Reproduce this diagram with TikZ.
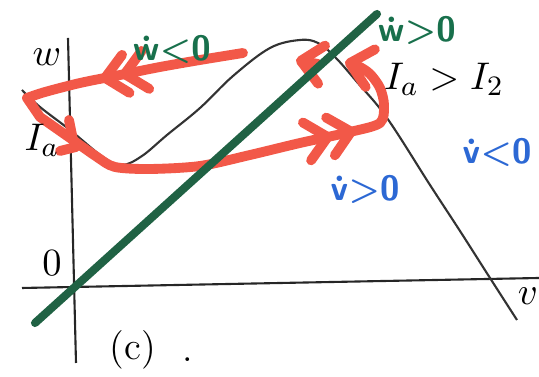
\documentclass[tikz,border=0pt]{standalone}
\usepackage{amsmath}
\usepackage{xcolor}
\usepackage{tikz}
\usetikzlibrary{arrows.meta, decorations.markings}

\definecolor{penred}{RGB}{242,88,72}
\definecolor{pengreen}{RGB}{32,98,68}
\definecolor{inkgreen}{RGB}{24,112,76}
\definecolor{inkblue}{RGB}{44,104,212}

\begin{document}
\begin{tikzpicture}[
        x=0.01cm, y=-0.01cm,
        >={Straight Barb[round, length=6pt, width=11pt]},
        axis/.style={draw=black!85, line width=0.6pt},
        nullv/.style={draw=black!80, line width=0.6pt},
        nullw/.style={draw=pengreen, line width=2.3pt, line cap=round},
        limitcycle/.style={draw=penred, line width=2.8pt, line cap=round, line join=round},
        marklabel/.style={font=\fontsize{11}{13}\selectfont},
        signgreen/.style={text=inkgreen, font=\sffamily\bfseries\boldmath},
        signblue/.style={text=inkblue, font=\sffamily\bfseries\boldmath}
    ]
        \useasboundingbox (0,0) rectangle (539,377);

        % Axes
        \draw[axis] (68,38) -- (76,363);
        \draw[axis] (22,288) -- (539,278);

        % Cubic nullcline
        \draw[nullv] plot[smooth, tension=0.6] coordinates {(22,90) (40,107) (70,130) (103,157) (122,165) (142,156) (167,135) (200,108) (233,76) (270,48) (300,40) (318,43) (335,57) (357,82) (387,118) (430,185) (460,231) (490,278) (517,320)};

        % Orbit
        \draw[limitcycle, ->, postaction={decorate, decoration={markings,
                mark=at position 1.25cm with {\arrow{>}},
                mark=at position 1.45cm with {\arrow{>}},
                mark=at position 5.55cm with {\arrow{>}},
                mark=at position 5.79cm with {\arrow{>}}}}]
            plot[smooth, tension=0.5] coordinates {(243,53) (200,60) (160,67) (120,75) (80,83) (45,92) (27,98)}
            -- plot[smooth, tension=0.5] coordinates {(40,117) (70,138) (97,157) (115,167) (150,169) (200,166) (250,155) (300,143) (350,132) (380,123) (384,105) (380,88) (370,74) (358,66) (345,62)};
        \draw[limitcycle, ->] (318,64) -- (296,60);
        \draw[limitcycle] (60,151) -- (76,147);
        \draw[limitcycle] (69,120) -- (73,140);

        % Linear nullcline
        \draw[nullw] (35,323) -- (377,14);

        % Labels
        \node[marklabel] (wlabel) at (47,57) {$w$};
        \node[marklabel] (vlabel) at (528,296) {$v$};
        \node[marklabel] (zero) at (52,263) {$0$};
        \node[marklabel] (Ia) at (42,140) {$I_a$};
        \node[marklabel] (IaI2) at (444,79) {$I_a > I_2$};
        \node[marklabel] (caption) at (133,350) {(c)};
        \node[marklabel] (dot) at (188,360) {.};

        \node[signgreen] (wdotneg) at (172,50) {$\dot{\mathsf{w}}{<}\mathsf{0}$};
        \node[signgreen] (wdotpos) at (417,31) {$\dot{\mathsf{w}}{>}\mathsf{0}$};
        \node[signblue] (vdotneg) at (497,153) {$\dot{\mathsf{v}}{<}\mathsf{0}$};
        \node[signblue] (vdotpos) at (365,190) {$\dot{\mathsf{v}}{>}\mathsf{0}$};
    \end{tikzpicture}
\end{document}
